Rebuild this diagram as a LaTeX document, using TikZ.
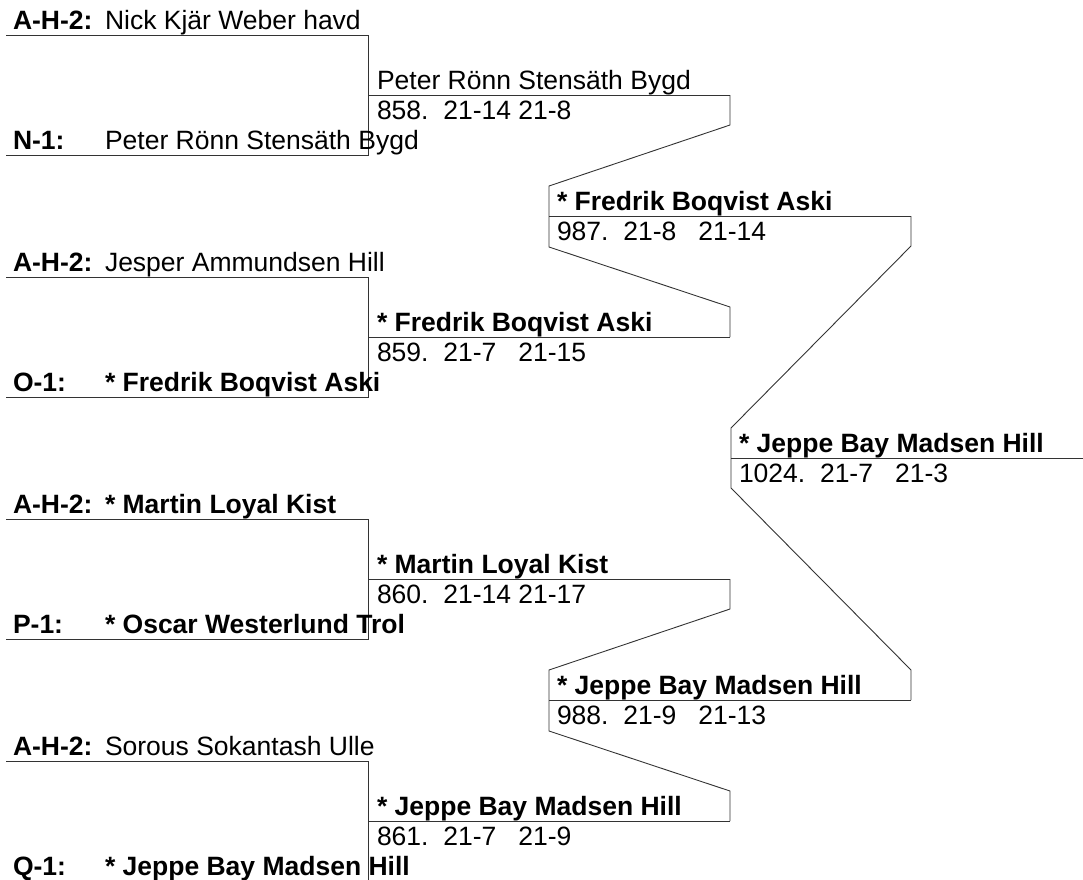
\documentclass[tikz,border=0pt]{standalone}
\usepackage{fontspec}
\setmainfont{Liberation Sans}
\begin{document}
\begin{tikzpicture}[x=1pt,y=-1pt,
  ln/.style={draw=black!80,line width=0.9pt},
  txt/.style={anchor=base west,inner sep=0pt,outer sep=0pt,font=\fontsize{26.5}{30}\selectfont},
  btxt/.style={txt,font=\fontsize{26.5}{30}\selectfont\bfseries}]
\useasboundingbox (0,0) rectangle (1083,879);
% ---------- round 1 geometry ----------
\foreach \k in {0,1,2,3}{
  \pgfmathsetmacro{\T}{35+242*\k}
  \pgfmathsetmacro{\B}{155+242*\k}
  \pgfmathsetmacro{\M}{95+242*\k}
  \coordinate (ta\k) at (6,\T);
  \coordinate (tb\k) at (368,\T);
  \coordinate (ba\k) at (6,\B);
  \coordinate (bb\k) at (368,\B);
  \coordinate (ma\k) at (368,\M);
  \coordinate (mb\k) at (730,\M);
  \draw[ln] (ta\k) -- (tb\k) -- (bb\k) -- (ba\k);
  \draw[ln] (ma\k) -- (mb\k);
}
% ---------- round 2 geometry ----------
\coordinate (ra0) at (549,216);
\coordinate (rb0) at (911,216);
\coordinate (ra1) at (549,700);
\coordinate (rb1) at (911,700);
\draw[ln] (ra0) -- (rb0);
\draw[ln] (ra1) -- (rb1);
\draw[ln] (mb0) -- (730,125) -- (549,186) -- (549,247) -- (730,307) -- (mb1);
\draw[ln] (mb2) -- (730,609) -- (549,670) -- (549,731) -- (730,791) -- (mb3);
% ---------- final ----------
\coordinate (fa) at (731,458);
\coordinate (fb) at (1083,458);
\draw[ln] (fa) -- (fb);
\draw[ln] (rb0) -- (911,246) -- (731,428) -- (731,488) -- (911,670) -- (rb1);
% ---------- round 1 texts ----------
\node[btxt] (s0a) at (13,29) {A-H-2:};
\node[txt]  (n0a) at (105,29) {Nick Kjär Weber havd};
\node[btxt] (s0b) at (13,149) {N-1:};
\node[txt]  (n0b) at (105,149) {Peter Rönn Stensäth Bygd};
\node[btxt] (s1a) at (13,271) {A-H-2:};
\node[txt]  (n1a) at (105,271) {Jesper Ammundsen Hill};
\node[btxt] (s1b) at (13,391) {O-1:};
\node[btxt] (n1b) at (105,391) {* Fredrik Boqvist Aski};
\node[btxt] (s2a) at (13,513) {A-H-2:};
\node[btxt] (n2a) at (105,513) {* Martin Loyal Kist};
\node[btxt] (s2b) at (13,633) {P-1:};
\node[btxt] (n2b) at (105,633) {* Oscar Westerlund Trol};
\node[btxt] (s3a) at (13,755) {A-H-2:};
\node[txt]  (n3a) at (105,755) {Sorous Sokantash Ulle};
\node[btxt] (s3b) at (13,875) {Q-1:};
\node[btxt] (n3b) at (105,875) {* Jeppe Bay Madsen Hill};
% ---------- round 1 match texts ----------
\node[txt]  (w0) at (377,89) {Peter Rönn Stensäth Bygd};
\node[txt]  (c0) at (377,119) {858.\ \ 21-14\ 21-8};
\node[btxt] (w1) at (377,331) {* Fredrik Boqvist Aski};
\node[txt]  (c1) at (377,361) {859.\ \ 21-7\ \ \ 21-15};
\node[btxt] (w2) at (377,573) {* Martin Loyal Kist};
\node[txt]  (c2) at (377,603) {860.\ \ 21-14\ 21-17};
\node[btxt] (w3) at (377,815) {* Jeppe Bay Madsen Hill};
\node[txt]  (c3) at (377,845) {861.\ \ 21-7\ \ \ 21-9};
% ---------- round 2 texts ----------
\node[btxt] (v0) at (557,210) {* Fredrik Boqvist Aski};
\node[txt]  (d0) at (557,240) {987.\ \ 21-8\ \ \ 21-14};
\node[btxt] (v1) at (557,694) {* Jeppe Bay Madsen Hill};
\node[txt]  (d1) at (557,724) {988.\ \ 21-9\ \ \ 21-13};
% ---------- final texts ----------
\node[btxt] (fw) at (739,452) {* Jeppe Bay Madsen Hill};
\node[txt]  (fc) at (739,482) {1024.\ \ 21-7\ \ \ 21-3};
\end{tikzpicture}
\end{document}
